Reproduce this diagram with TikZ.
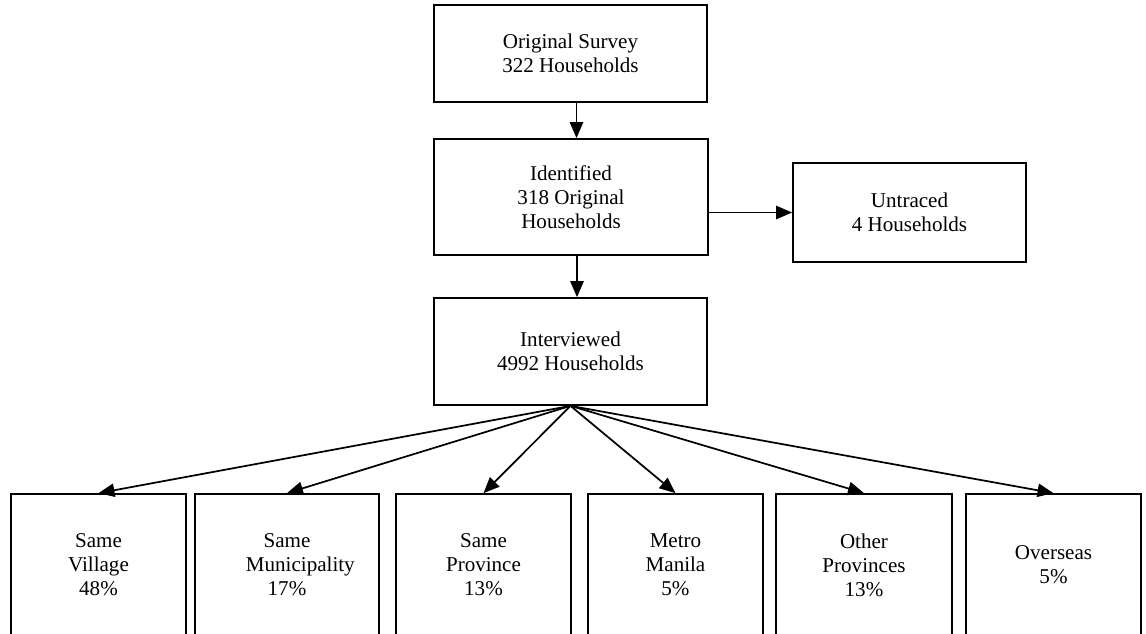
\documentclass[tikz,border=0pt]{standalone}
\usepackage{fontspec}
\setmainfont{Liberation Serif}
\usetikzlibrary{arrows.meta}
\begin{document}
\begin{tikzpicture}[x=0.75pt,y=-0.75pt,
  box/.style={draw=black, line width=1.3pt, fill=white, align=center, inner sep=0pt,
    font=\fontsize{15.8}{18}\selectfont},
  arr/.style={line width=1.3pt, -{Triangle[length=12pt,width=10pt]}}]
\useasboundingbox (0,0) rectangle (1146,633);
\fill[white] (0,0) rectangle (1146,633);
% top column
\node[box, minimum width=273*0.75pt, minimum height=97*0.75pt] (orig) at (570.5,53.5) {Original Survey\\322 Households};
\node[box, minimum width=274*0.75pt, minimum height=116*0.75pt] (ident) at (571,197) {Identified\\318 Original\\Households};
\node[box, minimum width=233*0.75pt, minimum height=99*0.75pt] (untr) at (909.5,212.5) {Untraced\\4 Households};
\node[box, minimum width=273*0.75pt, minimum height=107*0.75pt] (inter) at (570.5,351.5) {Interviewed\\4992 Households};
% bottom row
\node[box, minimum width=175*0.75pt, minimum height=142*0.75pt] (b1) at (98.5,565) {Same\\Village\\48\%};
\node[box, minimum width=184*0.75pt, minimum height=142*0.75pt] (b2) at (287,565) {Same\\\hspace*{20pt}Municipality\\17\%};
\node[box, minimum width=175*0.75pt, minimum height=142*0.75pt] (b3) at (483.5,565) {Same\\Province\\13\%};
\node[box, minimum width=175*0.75pt, minimum height=142*0.75pt] (b4) at (675.5,565) {Metro\\Manila\\5\%};
\node[box, minimum width=176*0.75pt, minimum height=142*0.75pt] (b5) at (864,565) {Other\\Provinces\\13\%};
\node[box, minimum width=175*0.75pt, minimum height=142*0.75pt] (b6) at (1053.5,565) {Overseas\\5\%};
% connectors
\draw[arr] ([xshift=4.5pt]orig.south) -- ([xshift=4.5pt]orig.south |- ident.north);
\draw[arr] ([xshift=4.5pt]ident.south) -- ([xshift=4.5pt]ident.south |- inter.north);
\draw[arr] (ident.east |- untr.west) -- (untr.west);
\foreach \b in {b1,b2,b3,b4,b5,b6}
  \draw[arr] (inter.south) -- (\b.north);
\end{tikzpicture}
\end{document}
